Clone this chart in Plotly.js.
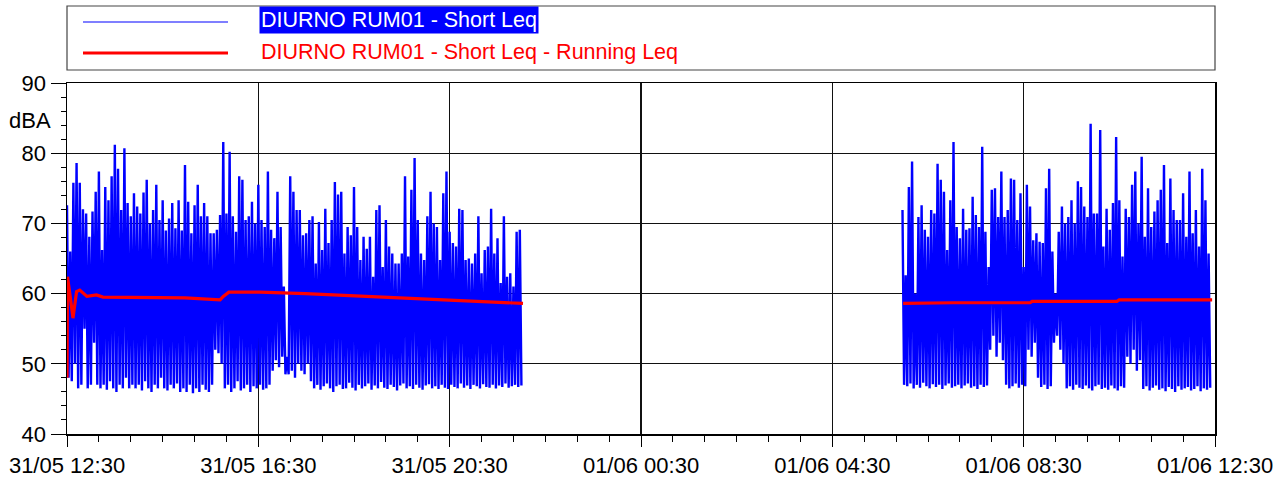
<!DOCTYPE html>
<html><head><meta charset="utf-8">
<script src="https://cdn.plot.ly/plotly-3.0.1.min.js"></script>
<style>html,body{margin:0;padding:0;background:#fff}#chart{width:1283px;height:477px}</style>
</head><body><div id="chart"></div>
<script>
// ---- data ----
const seriesNames = ["DIURNO RUM01 - Short Leq", "DIURNO RUM01 - Short Leq - Running Leq"];
const xTickRange = ["2023-05-31 12:30", "2023-06-01 12:30"];
const stepMinutes = 4; // spacing between successive peaks (lows lie half a step later)

const seg1Start = "2023-05-31T12:30:00Z";
const seg1Peaks = [72.6,66,75.8,78.6,75.8,72,71.4,68.1,71.7,74.5,77.4,66.2,75.2,73.3,76.7,81.2,77.8,71.9,80.7,72.9,
71,74.3,72.4,71.4,74.4,76.2,70,71.9,75.5,70.5,73.3,69,70.7,72.9,69.3,73.3,69,78.3,73.1,68.6,
72.6,75.5,71,72.9,71,68.6,68.6,69.1,71.2,81.6,71.4,80.2,71,68.8,76.7,76.2,70.5,71,73.1,70,
75.5,70.5,69.5,77.4,69.1,67.9,74.5,69.5,61,51,76.7,74.5,71.9,71.9,68.3,68.6,70.5,71,64.3,70.2,
66.2,72.1,67.2,70.5,75.9,74.1,74.5,65.7,69.5,68.3,75.2,69.5,64.8,68.1,66.4,68.1,62.4,71.9,72.6,63.8,
70.5,66.7,65.7,64.3,64.3,65.7,76.7,65.3,74.8,79.3,70.5,65.7,64.8,71,74.5,70,69.5,64.8,74.3,77.4,
68.8,67.2,66.7,72.1,71.9,64.8,65,64.3,65.7,71,62.9,66.2,66.7,72.1,65.7,67.9,61.5,71,62.4,62.9,
61,68.8,69.1];
const seg1Lows = [48,47.5,50,46.5,47,55,46.5,47,53,47,46.5,47,46.3,47.5,46.5,46,47,46.5,48,46.5,
47,46.5,47,46.2,47.5,46.5,46,47,46.5,48,46.5,46.2,47,46.5,47.2,46,46.5,46,47,45.8,
46.5,46,47,46.3,46,47,52,51.5,50,46.5,47,46,46.5,47.5,46.2,46.5,47,46,46.8,46.5,
47,46.3,46.5,47,49,50.5,49.5,51,48.5,48.5,49,48,50,49,48.5,50,47.5,46.5,47,46.3,
46.8,47.2,46.5,46,46.8,47,46.4,46.5,47.3,46.6,46.2,47,46.5,46.8,47.2,46.3,46.9,46.5,47.4,46.6,
46.4,47,46.7,46.2,46.9,47.2,46.5,46.8,46.4,47,46.6,46.3,46.9,47.1,46.5,46.8,46.4,47,46.6,46.4,
47,46.7,46.5,47.2,46.6,46.9,46.4,47,46.8,46.5,47.1,46.7,46.6,47,46.5,46.9,46.7,47.2,46.6,46.8,
47,46.7,46.9];

const seg2Start = "2023-06-01T05:58:00Z";
const seg2Peaks = [71.9,62.6,75.2,78.8,60,70.9,72.6,69.1,68.1,71.9,71.4,78.5,76.2,74.5,66.2,73.3,81.6,69.5,67.9,72.1,
69.1,69.3,73.8,71.2,69.5,80.9,68.8,63.8,74.8,75,70.9,77.4,70.9,71.9,76.4,76.2,70.5,74.3,63.8,75.5,
72.4,67.6,68.6,67.4,67.2,75,77.8,66,60,68.8,72.4,70,70.9,73.3,70,76,75.2,72.4,70.9,84.2,
71.4,71.4,83.3,66.7,72.1,69.1,72.9,82.3,73.3,65.3,72.1,70.9,75.5,77.4,70,79.5,68.1,75,69.5,71.7,
73.3,74.8,78.3,67.2,76.4,71.9,70.5,70.5,74.3,68.1,77.4,68.6,71.9,66.7,77.8,73.3,65.7];
const seg2Lows = [47,46.8,47.2,46.5,47,46.6,47.3,46.8,46.5,47.1,46.7,47,46.4,46.9,47.2,46.6,46.8,47,46.5,46.9,
47.2,46.6,46.8,46.4,47,46.7,46.9,52,54,51,53,50.5,47,46.5,46.8,47.2,46.6,47,46.8,52,
51,53,48,46.7,47,46.4,46.8,53,54,52,50,46.5,46.8,46.3,47,46.6,46.4,46.9,46.5,46.2,
46.8,47,46.4,46.6,46.3,46.9,46.5,46.2,46.8,46.6,51,50,52,49,50.5,46.4,46.8,46.2,46.6,46.9,
46.3,46.5,46.1,46.7,46.4,46,46.8,46.3,46.5,46.7,46.2,46.4,46.8,46.1,46.5,46.3,46.6];

// running Leq: minutes after 31/05 12:30 and level
const run1Minutes = [0,0.6,4,7.5,12,16,25,37,45,63,104,148,192,196,203,242,299,355,449,506,572];
const run1Values  = [48,62.4,59.6,56.5,60.3,60.5,59.6,59.8,59.5,59.5,59.4,59.4,59.1,59.6,60.2,60.2,60.0,59.7,59.2,59.0,58.6];
const run2Minutes = [1048.8,1111.5,1208,1210.6,1317,1319.8,1436.4];
const run2Values  = [58.6,58.7,58.7,58.9,58.9,59.1,59.1];

// ---- build traces ----
const MIN = 60000;
function segment(startIso, peaks, lows, xs, ys){
  const t0 = Date.parse(startIso);
  for (let i = 0; i < peaks.length; i++){
    xs.push(t0 + i*stepMinutes*MIN); ys.push(peaks[i]);
    if (i < lows.length){ xs.push(t0 + (i+0.5)*stepMinutes*MIN); ys.push(lows[i]); }
  }
}
const bx = [], by = [];
segment(seg1Start, seg1Peaks, seg1Lows, bx, by);
bx.push(bx[bx.length-1] + MIN); by.push(null);
segment(seg2Start, seg2Peaks, seg2Lows, bx, by);

const origin = Date.parse(seg1Start);
const rx = [], ry = [];
run1Minutes.forEach((m,i)=>{rx.push(origin + m*MIN); ry.push(run1Values[i]);});
rx.push(origin + (run1Minutes[run1Minutes.length-1]+1)*MIN); ry.push(null);
run2Minutes.forEach((m,i)=>{rx.push(origin + m*MIN); ry.push(run2Values[i]);});

const FONT = "Liberation Sans, Arial, sans-serif";
const traces = [
  {x: bx, y: by, type: 'scatter', mode: 'lines', name: seriesNames[0], connectgaps: false,
   line: {color: '#0000ff', width: 2.4, simplify: false}, showlegend: false, hoverinfo: 'skip'},
  {x: rx, y: ry, type: 'scatter', mode: 'lines', name: seriesNames[1], connectgaps: false,
   line: {color: '#ff0000', width: 3.2}, showlegend: false, hoverinfo: 'skip'}
];

// legend drawn in paper coordinates above the plot
const PH = 351, PW = 1148; // plot area in px
const py = v => (434 - v) / PH, px = v => (v - 67) / PW;

const layout = {
  width: 1283, height: 477,
  margin: {l: 67, r: 68, t: 83, b: 43, pad: 0},
  paper_bgcolor: '#ffffff', plot_bgcolor: '#ffffff',
  font: {family: FONT, size: 21, color: '#000'},
  showlegend: false,
  xaxis: {
    type: 'date', range: xTickRange, tick0: xTickRange[0], dtick: 4*3600*1000,
    tickformat: '%d/%m %H:%M', ticks: 'outside', ticklen: 11, tickwidth: 1, tickcolor: '#000',
    showline: true, linecolor: '#000', linewidth: 1.5, mirror: true,
    showgrid: true, gridcolor: '#111', gridwidth: 1.4, zeroline: false,
    minor: {dtick: 40*MIN, tick0: xTickRange[0], ticks: 'outside', ticklen: 6, tickcolor: '#000', showgrid: false},
    tickfont: {family: FONT, size: 22, color: '#000'}
  },
  yaxis: {
    range: [40, 90], dtick: 10, tick0: 40, ticks: 'outside', ticklen: 15, tickwidth: 1, tickcolor: '#000',
    showline: true, linecolor: '#000', linewidth: 1.5, mirror: true,
    showgrid: true, gridcolor: '#111', gridwidth: 1.4, zeroline: false,
    minor: {dtick: 2, ticks: 'outside', ticklen: 5, tickcolor: '#000', showgrid: false},
    tickfont: {family: FONT, size: 22, color: '#000'}
  },
  shapes: [
    {type: 'rect', xref: 'paper', yref: 'paper', x0: 0, x1: 1, y0: py(70), y1: py(6),
     line: {color: '#444', width: 1.2}, fillcolor: 'rgba(0,0,0,0)'},
    {type: 'line', xref: 'paper', yref: 'paper', x0: px(83), x1: px(228), y0: py(22), y1: py(22),
     line: {color: '#0000ff', width: 1.2}},
    {type: 'line', xref: 'paper', yref: 'paper', x0: px(83), x1: px(228), y0: py(53), y1: py(53),
     line: {color: '#ff0000', width: 3.2}}
  ],
  annotations: [
    {xref: 'paper', yref: 'paper', x: px(259), y: py(20.5), xanchor: 'left', yanchor: 'middle',
     text: seriesNames[0], showarrow: false, bgcolor: '#0000ff', borderpad: 1,
     font: {family: FONT, size: 21.5, color: '#ffffff'}},
    {xref: 'paper', yref: 'paper', x: px(259), y: py(52), xanchor: 'left', yanchor: 'middle',
     text: seriesNames[1], showarrow: false,
     font: {family: FONT, size: 21.5, color: '#ff0000'}},
    {xref: 'paper', yref: 'paper', x: px(53), y: py(120), xanchor: 'right', yanchor: 'middle',
     text: 'dBA', showarrow: false, font: {family: FONT, size: 22, color: '#000'}}
  ]
};

Plotly.newPlot('chart', traces, layout, {staticPlot: true, displayModeBar: false});
</script>
</body></html>
